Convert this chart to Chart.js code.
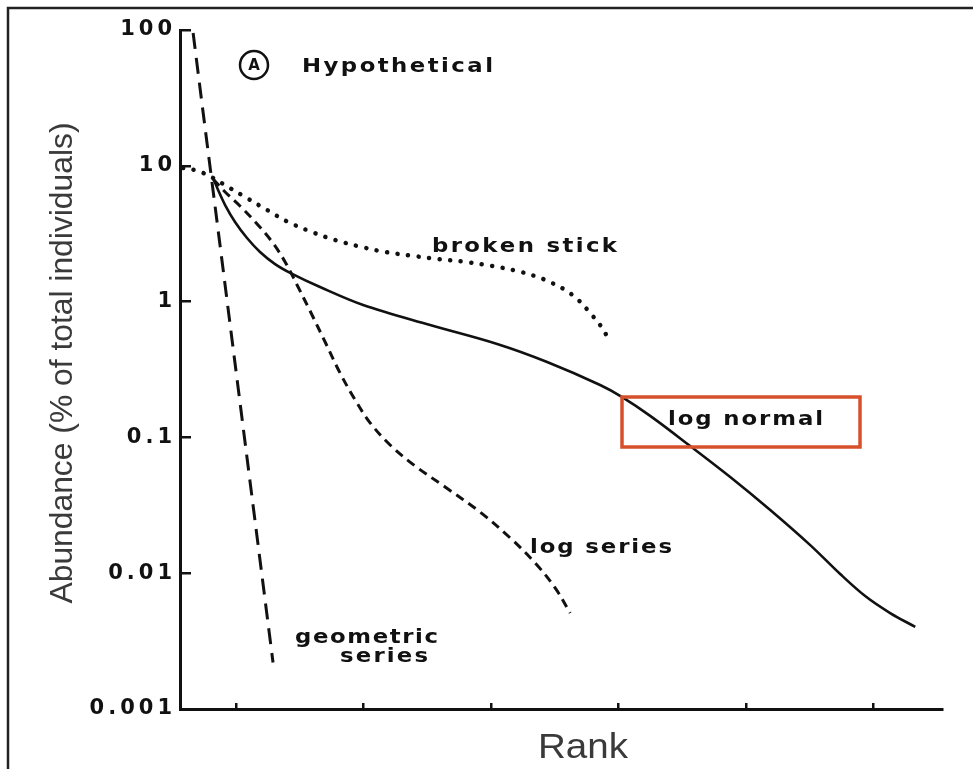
<!DOCTYPE html>
<html>
<head>
<meta charset="utf-8">
<script src="https://cdn.jsdelivr.net/npm/chart.js@4.4.1/dist/chart.umd.min.js"></script>
<style>
  html, body { margin: 0; padding: 0; background: #ffffff; }
  #wrap { position: relative; width: 973px; height: 769px; }
  canvas { display: block; }
</style>
</head>
<body>
<div id="wrap"><canvas id="chart" width="973" height="769"></canvas></div>
<script>
// Rank axis: unlabelled tick positions
const rankTicks = [10, 20, 30, 40, 50, 60];

// Abundance axis (log): tick values and their labels
const abundanceTicks = [0.001, 0.01, 0.1, 1, 10, 100];
const abundanceTickLabels = ['0.001', '0.01', '0.1', '1', '10', '100'];

// Geometric series
const geometricRank  = [6.63, 7.29, 8.07, 8.84, 9.76, 11.38, 12.90];
const geometricAbund = [95.0, 30.5, 8.13, 2.20, 0.46, 0.0292, 0.0022];

// Log series
const logSeriesRank  = [8.20, 9.14, 10.31, 11.65, 12.83, 13.85, 14.79, 15.81, 16.99, 18.16, 19.34, 20.52, 22.09, 24.05, 26.41, 29.15, 31.51, 33.47, 35.04, 36.22];
const logSeriesAbund = [7.99, 6.41, 5.06, 3.73, 2.75, 1.96, 1.325, 0.853, 0.504, 0.298, 0.189, 0.128, 0.0879, 0.0616, 0.0431, 0.0282, 0.0182, 0.0119, 0.0078, 0.0051];

// Broken stick
const brokenStickRank  = [5.84, 7.02, 8.20, 8.98, 10.71, 12.43, 14.08, 15.97, 17.77, 19.89, 21.70, 23.89, 25.86, 27.98, 30.09, 32.06, 33.47, 34.65, 35.82, 36.85, 37.79, 38.57, 39.20];
const brokenStickAbund = [9.63, 9.16, 8.13, 7.35, 5.89, 4.73, 3.86, 3.25, 2.84, 2.52, 2.32, 2.17, 2.06, 1.96, 1.83, 1.68, 1.54, 1.39, 1.22, 1.03, 0.824, 0.672, 0.540];

// Log normal
const logNormalRank  = [8.20, 8.59, 9.14, 9.92, 10.86, 11.88, 13.06, 14.40, 16.59, 19.97, 25.23, 30.49, 34.41, 38.57, 40.30, 42.50, 45.64, 48.78, 51.92, 55.06, 57.41, 59.37, 61.33, 63.30];
const logNormalAbund = [8.13, 6.63, 5.14, 3.86, 2.94, 2.32, 1.89, 1.60, 1.28, 0.944, 0.672, 0.487, 0.359, 0.243, 0.198, 0.144, 0.0864, 0.0511, 0.0292, 0.0161, 0.00986, 0.00679, 0.00509, 0.00402];

const INK = '#111111';

function points(xs, ys) {
  return xs.map((x, i) => ({ x: x, y: ys[i] }));
}

function curve(label, xs, ys, extra) {
  return Object.assign({
    label: label,
    data: points(xs, ys),
    showLine: true,
    borderColor: INK,
    backgroundColor: INK,
    pointRadius: 0,
    borderWidth: 3,
    fill: false,
    tension: 0.35
  }, extra);
}

// Bold, horizontally widened text laid out letter by letter across a given width
function spacedText(ctx, text, x, y, width, font, stretch) {
  ctx.save();
  ctx.font = font;
  ctx.fillStyle = INK;
  ctx.textAlign = 'left';
  ctx.textBaseline = 'middle';
  const k = stretch || 1;
  const chars = Array.from(text);
  const ws = chars.map(c => ctx.measureText(c).width * k);
  const natural = ws.reduce((a, b) => a + b, 0);
  const gap = chars.length > 1 ? (width - natural) / (chars.length - 1) : 0;
  let cx = x;
  chars.forEach((c, i) => {
    ctx.save();
    ctx.translate(cx, y);
    ctx.scale(k, 1);
    ctx.fillText(c, 0, 0);
    ctx.restore();
    cx += ws[i] + gap;
  });
  ctx.restore();
}

// Text stretched horizontally to a given width, centred at (cx, cy), optionally rotated
function fittedText(ctx, text, cx, cy, width, font, color, rotation) {
  ctx.save();
  ctx.font = font;
  ctx.fillStyle = color;
  ctx.textAlign = 'center';
  ctx.textBaseline = 'middle';
  const natural = ctx.measureText(text).width;
  ctx.translate(cx, cy);
  if (rotation) ctx.rotate(rotation);
  ctx.scale(width / natural, 1);
  ctx.fillText(text, 0, 0);
  ctx.restore();
}

const tickSpacing = {
  id: 'tickSpacing',
  beforeDraw(chart) { chart.ctx.letterSpacing = '4px'; },
  afterDatasetsDraw(chart) { chart.ctx.letterSpacing = '0px'; }
};

const annotations = {
  id: 'annotations',
  afterDraw(chart) {
    const ctx = chart.ctx;
    ctx.save();
    ctx.letterSpacing = '0px';

    // frame
    ctx.strokeStyle = '#222222';
    ctx.lineWidth = 2.5;
    ctx.beginPath();
    ctx.moveTo(8, 769);
    ctx.lineTo(8, 8);
    ctx.lineTo(973, 8);
    ctx.stroke();

    // panel marker
    ctx.strokeStyle = INK;
    ctx.lineWidth = 2.5;
    ctx.beginPath();
    ctx.arc(254, 65, 14, 0, Math.PI * 2);
    ctx.stroke();
    ctx.font = 'bold 15px "DejaVu Sans"';
    ctx.fillStyle = INK;
    ctx.textAlign = 'center';
    ctx.textBaseline = 'middle';
    ctx.fillText('A', 254, 66);

    const f = 'bold 19px "DejaVu Sans"';
    spacedText(ctx, 'Hypothetical', 302, 67, 191, f, 1.2);
    spacedText(ctx, 'broken stick', 432, 247, 185, f, 1.2);
    spacedText(ctx, 'log normal', 668, 420, 155, f, 1.2);
    spacedText(ctx, 'log series', 530, 548, 142, f, 1.2);
    spacedText(ctx, 'geometric', 295, 638, 143, f, 1.2);
    spacedText(ctx, 'series', 340, 657, 88, f, 1.2);

    // highlight box
    ctx.strokeStyle = '#d7502c';
    ctx.lineWidth = 3.5;
    ctx.strokeRect(622, 397, 238, 50);

    // axis titles
    fittedText(ctx, 'Abundance (% of total individuals)', 63, 363, 481, '31px "Liberation Sans"', '#3a3a3a', -Math.PI / 2);
    fittedText(ctx, 'Rank', 583, 748, 90, '35px "Liberation Sans"', '#3a3a3a', 0);

    ctx.restore();
  }
};

new Chart(document.getElementById('chart'), {
  type: 'scatter',
  data: {
    datasets: [
      curve('geometric series', geometricRank, geometricAbund, { borderDash: [16, 9], borderWidth: 3, tension: 0 }),
      curve('log series', logSeriesRank, logSeriesAbund, { borderDash: [9, 6], borderWidth: 3 }),
      curve('broken stick', brokenStickRank, brokenStickAbund, { borderDash: [0.1, 10.5], borderWidth: 4.5, borderCapStyle: 'round' }),
      curve('log normal', logNormalRank, logNormalAbund, { borderWidth: 2.6 })
    ]
  },
  options: {
    responsive: false,
    animation: false,
    devicePixelRatio: 1,
    layout: { padding: { left: 0, right: 31, top: 30, bottom: 0 } },
    plugins: { legend: { display: false }, tooltip: { enabled: false } },
    scales: {
      x: {
        type: 'linear',
        min: 5.6,
        max: 65.4,
        afterBuildTicks: s => { s.ticks = rankTicks.map(v => ({ value: v })); },
        afterFit: s => { s.height = 60; },
        ticks: { callback: () => '', autoSkip: false },
        grid: { drawOnChartArea: false, drawTicks: true, tickLength: -6, color: INK, lineWidth: 2.5 },
        border: { display: true, color: INK, width: 3 }
      },
      y: {
        type: 'logarithmic',
        min: 0.001,
        max: 100,
        afterBuildTicks: s => { s.ticks = abundanceTicks.map(v => ({ value: v })); },
        afterFit: s => { s.width = 180; },
        ticks: {
          autoSkip: false,
          padding: 15,
          color: INK,
          font: { family: 'DejaVu Sans', weight: 'bold', size: 21 },
          callback: v => {
            const i = abundanceTicks.findIndex(t => Math.abs(Math.log10(t) - Math.log10(v)) < 1e-6);
            return i >= 0 ? abundanceTickLabels[i] : '';
          }
        },
        grid: { drawOnChartArea: false, drawTicks: true, tickLength: -11, color: INK, lineWidth: 2.5 },
        border: { display: true, color: INK, width: 3 }
      }
    }
  },
  plugins: [tickSpacing, annotations]
});
</script>
</body>
</html>
